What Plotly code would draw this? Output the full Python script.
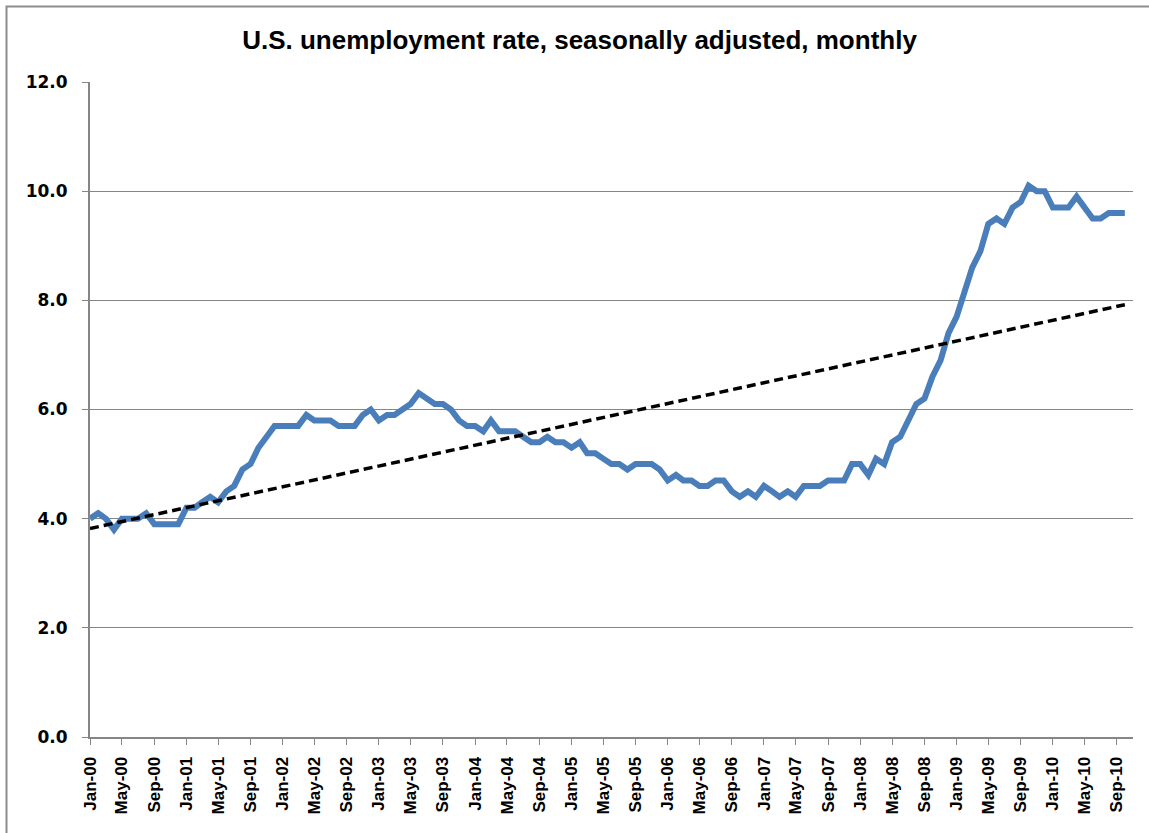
import plotly.graph_objects as go
import pandas as pd

# Monthly dates, Jan-2000 .. Oct-2010
months = pd.date_range("2000-01-01", "2010-10-01", freq="MS")

rate_2000 = [4.0, 4.1, 4.0, 3.8, 4.0, 4.0, 4.0, 4.1, 3.9, 3.9, 3.9, 3.9]
rate_2001 = [4.2, 4.2, 4.3, 4.4, 4.3, 4.5, 4.6, 4.9, 5.0, 5.3, 5.5, 5.7]
rate_2002 = [5.7, 5.7, 5.7, 5.9, 5.8, 5.8, 5.8, 5.7, 5.7, 5.7, 5.9, 6.0]
rate_2003 = [5.8, 5.9, 5.9, 6.0, 6.1, 6.3, 6.2, 6.1, 6.1, 6.0, 5.8, 5.7]
rate_2004 = [5.7, 5.6, 5.8, 5.6, 5.6, 5.6, 5.5, 5.4, 5.4, 5.5, 5.4, 5.4]
rate_2005 = [5.3, 5.4, 5.2, 5.2, 5.1, 5.0, 5.0, 4.9, 5.0, 5.0, 5.0, 4.9]
rate_2006 = [4.7, 4.8, 4.7, 4.7, 4.6, 4.6, 4.7, 4.7, 4.5, 4.4, 4.5, 4.4]
rate_2007 = [4.6, 4.5, 4.4, 4.5, 4.4, 4.6, 4.6, 4.6, 4.7, 4.7, 4.7, 5.0]
rate_2008 = [5.0, 4.8, 5.1, 5.0, 5.4, 5.5, 5.8, 6.1, 6.2, 6.6, 6.9, 7.4]
rate_2009 = [7.7, 8.2, 8.6, 8.9, 9.4, 9.5, 9.4, 9.7, 9.8, 10.1, 10.0, 10.0]
rate_2010 = [9.7, 9.7, 9.7, 9.9, 9.7, 9.5, 9.5, 9.6, 9.6, 9.6]

rate = (rate_2000 + rate_2001 + rate_2002 + rate_2003 + rate_2004 + rate_2005
        + rate_2006 + rate_2007 + rate_2008 + rate_2009 + rate_2010)

# Linear trend line endpoints
trend_dates = [months[0], months[-1]]
trend_values = [3.82, 7.92]

y_ticks = [0, 2, 4, 6, 8, 10, 12]
y_tick_labels = ["0.0", "2.0", "4.0", "6.0", "8.0", "10.0", "12.0"]

title_text = "U.S. unemployment rate, seasonally adjusted, monthly"

W, H = 1149, 833
ML, MR, MT, MB = 90, 16, 82, 96
PW, PH = W - ML - MR, H - MT - MB

fig = go.Figure()
fig.add_trace(go.Scatter(
    x=months, y=rate, mode="lines",
    line=dict(color="#4A7EBB", width=6),
    showlegend=False, hoverinfo="x+y",
))
fig.add_trace(go.Scatter(
    x=trend_dates, y=trend_values, mode="lines",
    line=dict(color="black", width=3.5, dash="9px,5px"),
    showlegend=False, hoverinfo="skip",
))

narrow = "Liberation Sans Narrow, Arial Narrow, Liberation Sans, sans-serif"

fig.update_layout(
    width=W, height=H,
    margin=dict(l=ML, r=MR, t=MT, b=MB),
    paper_bgcolor="white", plot_bgcolor="white",
    title=dict(
        text=title_text, x=579.5 / W, xanchor="center",
        y=(H - 40) / H, yanchor="middle",
        font=dict(family=narrow, size=26, color="black", weight="bold"),
    ),
    xaxis=dict(
        type="date",
        range=[months[0], pd.Timestamp("2010-11-01")],
        tick0="2000-01-01", dtick="M4", tickformat="%b-%y",
        tickangle=-90,
        ticks="outside", ticklen=6, tickcolor="#868686", tickwidth=1,
        ticklabelstandoff=5,
        showgrid=False, showline=True, linecolor="#868686", linewidth=2,
        tickfont=dict(family=narrow, size=17, color="black", weight="bold"),
        zeroline=False,
    ),
    yaxis=dict(
        range=[0, 12],
        tickvals=y_ticks, ticktext=y_tick_labels,
        ticks="outside", ticklen=6, tickcolor="#868686", tickwidth=1,
        ticklabelstandoff=11,
        showgrid=True, gridcolor="#868686", gridwidth=1,
        showline=True, linecolor="#868686", linewidth=2,
        tickfont=dict(family="DejaVu Sans", size=17, color="black", weight="bold"),
        zeroline=False,
    ),
    shapes=[dict(
        type="rect", xref="paper", yref="paper",
        x0=(6.5 - ML) / PW, x1=(W + 5 - ML) / PW,
        y0=(H - MB - (H + 5)) / PH, y1=(H - MB - 6.5) / PH,
        line=dict(color="#8C8C8C", width=2), fillcolor="rgba(0,0,0,0)",
        layer="below",
    )],
)

fig.write_html("out.html", config={"displayModeBar": False},
               post_script="document.body.style.margin='0';")
